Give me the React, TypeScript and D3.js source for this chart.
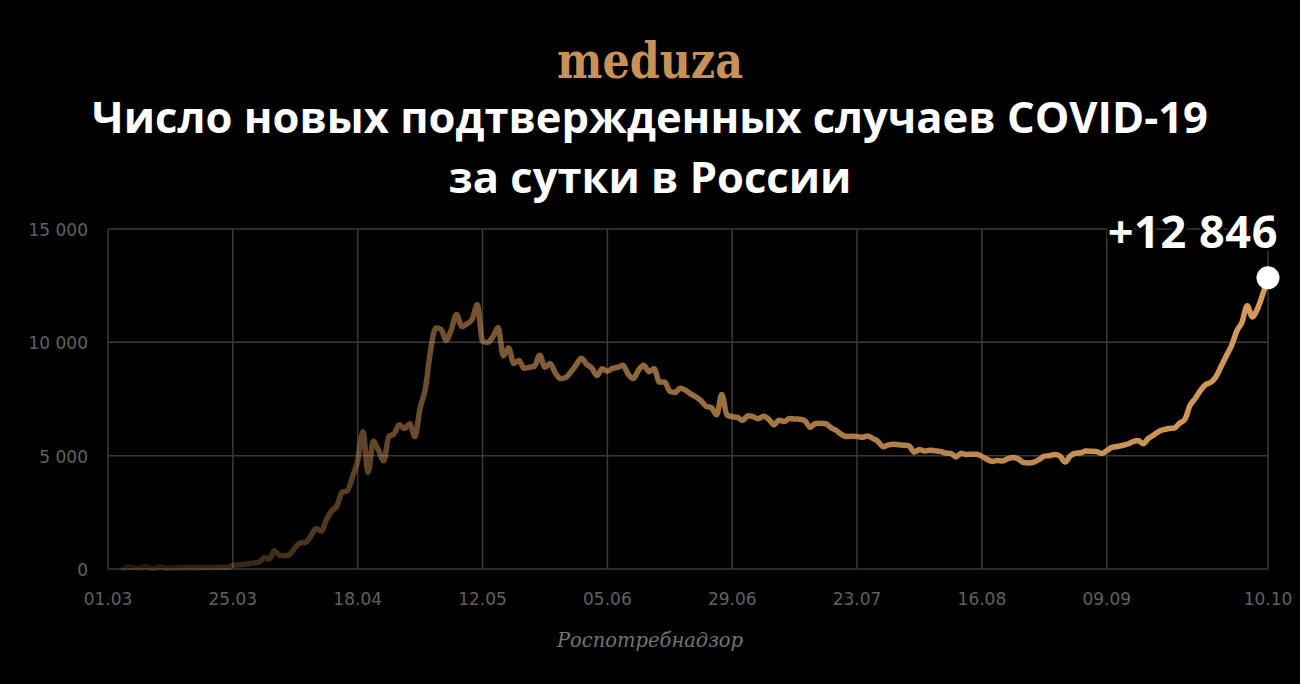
import React from 'react';
import * as d3 from 'd3';

// Daily new confirmed COVID-19 cases in Russia, 2020
const marchFirstDay = 4;
const march = [20, 90, 50, 30, 100, 40, 20, 90, 40, 20, 60, 50, 60, 60, 60, 70, 70, 70, 70, 80, 70, 163, 182, 196, 228, 270, 302, 501];
const april = [440, 800, 601, 582, 658, 954, 1154, 1175, 1459, 1786, 1667, 2186, 2558, 2774, 3388, 3448, 4070, 4785, 6060, 4268, 5642, 5236, 4774, 5849, 5966, 6361, 6198, 6411, 5841, 7099];
const may = [7933, 9623, 10633, 10581, 10102, 10559, 11231, 10699, 10817, 11012, 11656, 10050, 10000, 10250, 10650, 9400, 9750, 9070, 9200, 8850, 8900, 8950, 9434, 8900, 9070, 8650, 8400, 8450, 8700, 9000, 9300];
const june = [9035, 8863, 8536, 8831, 8726, 8855, 8900, 8985, 8595, 8404, 8779, 8987, 8706, 8835, 8246, 8248, 7843, 7790, 7972, 7889, 7728, 7600, 7425, 7176, 7113, 6800, 7700, 6791, 6719, 6693];
const july = [6556, 6760, 6718, 6632, 6736, 6611, 6368, 6562, 6509, 6635, 6615, 6611, 6537, 6248, 6422, 6428, 6406, 6234, 6109, 5940, 5842, 5862, 5848, 5811, 5871, 5765, 5635, 5395, 5475, 5509, 5482];
const august = [5462, 5427, 5159, 5267, 5204, 5241, 5212, 5189, 5118, 5102, 4945, 5102, 5057, 5061, 5065, 4969, 4839, 4748, 4790, 4767, 4870, 4921, 4852, 4696, 4676, 4711, 4828, 4979, 5000, 5050, 4980];
const september = [4720, 4990, 5110, 5130, 5205, 5195, 5185, 5099, 5218, 5363, 5405, 5449, 5509, 5615, 5670, 5529, 5762, 5905, 6065, 6148, 6196, 6215, 6431, 6595, 7212, 7523, 7867, 8135, 8232, 8481];
const october = [8945, 9412, 9859, 10499, 10888, 11615, 11115, 11493, 12126, 12846];

const xTickLabels = ['01.03', '25.03', '18.04', '12.05', '05.06', '29.06', '23.07', '16.08', '09.09', '10.10'];
const yTicks = [0, 5000, 10000, 15000];

const titleLines = ['Число новых подтвержденных случаев COVID-19', 'за сутки в России'];
const lastLabel = '+12 846';
const sourceLabel = 'Роспотребнадзор';
const logoText = 'meduza';

type Pt = { date: Date; value: number };

const months: [number, number, number[]][] = [
  [2, marchFirstDay, march],
  [3, 1, april],
  [4, 1, may],
  [5, 1, june],
  [6, 1, july],
  [7, 1, august],
  [8, 1, september],
  [9, 1, october],
];

const data: Pt[] = [];
months.forEach(([m, start, arr]) => {
  arr.forEach((v, i) => data.push({ date: new Date(2020, m, start + i), value: v }));
});

const parseTick = (s: string) => {
  const [dd, mm] = s.split('.').map(Number);
  return new Date(2020, mm - 1, dd);
};

const W = 1300;
const H = 684;
const left = 108;
const right = 1268;
const top = 229;
const bottom = 569;

export default function App() {
  const x = d3.scaleTime().domain([new Date(2020, 2, 1), new Date(2020, 9, 10)]).range([left, right]);
  const y = d3.scaleLinear().domain([0, 15000]).range([bottom, top]);
  const line = d3
    .line<Pt>()
    .x((d) => x(d.date))
    .y((d) => y(d.value))
    .curve(d3.curveMonotoneX);
  const fmt = (v: number) => d3.format(',')(v).replace(/,/g, ' ');
  const last = data[data.length - 1];
  const gridColor = '#3a3a3a';
  const labelColor = '#616161';

  return (
    <svg
      width={W}
      height={H}
      style={{ position: 'absolute', left: 0, top: 0, display: 'block' }}
    >
      <defs>
        <linearGradient id="lineGrad" gradientUnits="userSpaceOnUse" x1={left} x2={right} y1={0} y2={0}>
          <stop offset="0" stopColor="#d69a5a" stopOpacity={0.14} />
          <stop offset="0.12" stopColor="#d69a5a" stopOpacity={0.26} />
          <stop offset="0.25" stopColor="#d69a5a" stopOpacity={0.48} />
          <stop offset="0.4" stopColor="#d69a5a" stopOpacity={0.63} />
          <stop offset="0.6" stopColor="#d69a5a" stopOpacity={0.78} />
          <stop offset="0.85" stopColor="#d69a5a" stopOpacity={0.93} />
          <stop offset="1" stopColor="#d69a5a" stopOpacity={1} />
        </linearGradient>
      </defs>
      <rect x={0} y={0} width={W} height={H} fill="#000" />

      <text
        x={650}
        y={78}
        textAnchor="middle"
        fill="#c8915a"
        fontFamily="'DejaVu Serif', serif"
        fontWeight={900}
        fontSize={50}
        textLength={186}
        lengthAdjust="spacingAndGlyphs"
      >
        {logoText}
      </text>

      {titleLines.map((t, i) => (
        <text
          key={i}
          x={650}
          y={133 + i * 60}
          textAnchor="middle"
          fill="#ffffff"
          fontFamily="'Open Sans', sans-serif"
          fontWeight={700}
          fontSize={43.5}
        >
          {t}
        </text>
      ))}

      {yTicks.map((t) => (
        <g key={t}>
          <line x1={left} x2={right} y1={y(t)} y2={y(t)} stroke={gridColor} strokeWidth={1.5} />
          <text
            x={88}
            y={y(t) + 7}
            textAnchor="end"
            fill={labelColor}
            fontFamily="'DejaVu Sans', sans-serif"
            fontSize={17}
          >
            {fmt(t)}
          </text>
        </g>
      ))}

      {xTickLabels.map((s) => {
        const xx = x(parseTick(s));
        return (
          <g key={s}>
            <line x1={xx} x2={xx} y1={top} y2={bottom} stroke={gridColor} strokeWidth={1.5} />
            <text
              x={xx}
              y={605}
              textAnchor="middle"
              fill={labelColor}
              fontFamily="'DejaVu Sans', sans-serif"
              fontSize={17}
            >
              {s}
            </text>
          </g>
        );
      })}

      <path
        d={line(data) || ''}
        fill="none"
        stroke="url(#lineGrad)"
        strokeWidth={5.5}
        strokeLinejoin="round"
        strokeLinecap="round"
      />

      <circle cx={x(last.date)} cy={y(last.value)} r={11.5} fill="#ffffff" />

      <text
        x={1278}
        y={248}
        textAnchor="end"
        fill="#ffffff"
        stroke="#000"
        strokeWidth={6}
        paintOrder="stroke"
        fontFamily="'Open Sans', sans-serif"
        fontWeight={700}
        fontSize={45}
        letterSpacing={0.6}
      >
        {lastLabel}
      </text>

      <text
        x={650}
        y={647}
        textAnchor="middle"
        fill="#737373"
        fontFamily="'DejaVu Serif', serif"
        fontStyle="italic"
        fontSize={19.5}
      >
        {sourceLabel}
      </text>
    </svg>
  );
}
